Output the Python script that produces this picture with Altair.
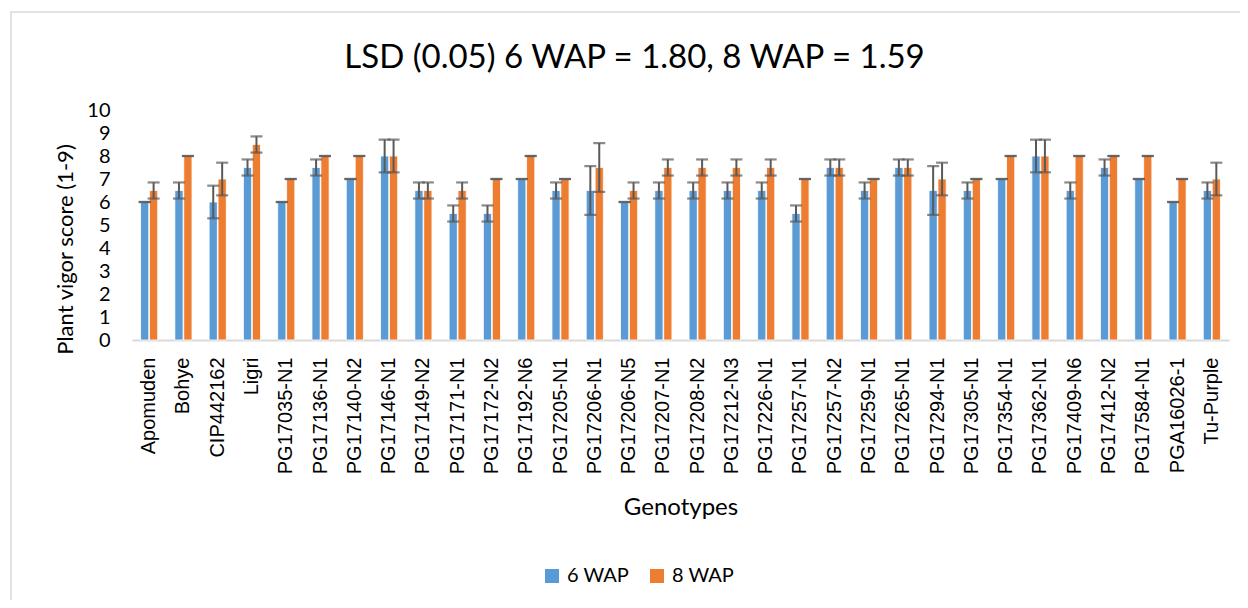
import altair as alt
import pandas as pd

genotypes = ["Apomuden", "Bohye", "CIP442162", "Ligri", "PG17035-N1", "PG17136-N1",
             "PG17140-N2", "PG17146-N1", "PG17149-N2", "PG17171-N1", "PG17172-N2",
             "PG17192-N6", "PG17205-N1", "PG17206-N1", "PG17206-N5", "PG17207-N1",
             "PG17208-N2", "PG17212-N3", "PG17226-N1", "PG17257-N1", "PG17257-N2",
             "PG17259-N1", "PG17265-N1", "PG17294-N1", "PG17305-N1", "PG17354-N1",
             "PG17362-N1", "PG17409-N6", "PG17412-N2", "PG17584-N1", "PGA16026-1",
             "Tu-Purple"]

wap6 = [6.0, 6.5, 6.0, 7.5, 6.0, 7.5, 7.0, 8.0, 6.5, 5.5, 5.5,
        7.0, 6.5, 6.5, 6.0, 6.5, 6.5, 6.5, 6.5, 5.5, 7.5,
        6.5, 7.5, 6.5, 6.5, 7.0, 8.0, 6.5, 7.5, 7.0, 6.0, 6.5]
err6 = [0.0, 0.35, 0.71, 0.35, 0.0, 0.35, 0.0, 0.71, 0.35, 0.35, 0.35,
        0.0, 0.35, 1.06, 0.0, 0.35, 0.35, 0.35, 0.35, 0.35, 0.35,
        0.35, 0.35, 1.06, 0.35, 0.0, 0.71, 0.35, 0.35, 0.0, 0.0, 0.35]

wap8 = [6.5, 8.0, 7.0, 8.5, 7.0, 8.0, 8.0, 8.0, 6.5, 6.5, 7.0,
        8.0, 7.0, 7.5, 6.5, 7.5, 7.5, 7.5, 7.5, 7.0, 7.5,
        7.0, 7.5, 7.0, 7.0, 8.0, 8.0, 8.0, 8.0, 8.0, 7.0, 7.0]
err8 = [0.35, 0.0, 0.71, 0.35, 0.0, 0.0, 0.0, 0.71, 0.35, 0.35, 0.0,
        0.0, 0.0, 1.06, 0.35, 0.35, 0.35, 0.35, 0.35, 0.0, 0.35,
        0.0, 0.35, 0.71, 0.0, 0.0, 0.71, 0.0, 0.0, 0.0, 0.0, 0.71]

y_ticks = [0, 1, 2, 3, 4, 5, 6, 7, 8, 9, 10]

series = ["6 WAP", "8 WAP"]
colors = ["#5B9BD5", "#ED7D31"]

rows = []
for g, v, e in zip(genotypes, wap6, err6):
    rows.append({"Genotype": g, "Period": series[0], "Score": v, "lo": v - e, "hi": v + e})
for g, v, e in zip(genotypes, wap8, err8):
    rows.append({"Genotype": g, "Period": series[1], "Score": v, "lo": v - e, "hi": v + e})
df = pd.DataFrame(rows)

W, H = 1097, 230

x_axis = alt.Axis(title="Genotypes", labelAngle=-90, labelFont="Liberation Sans",
                  labelFontSize=20, labelPadding=17, labelColor="#000000",
                  ticks=False, domainColor="#D9D9D9", domainWidth=2,
                  titleFont="Lato", titleFontSize=24, titleFontWeight="normal",
                  titleColor="#000000", titleY=167, titleBaseline="middle")
y_axis = alt.Axis(title="Plant vigor score (1-9)", values=y_ticks, tickCount=11,
                  labelOverlap=False, labelFlush=False, labelBound=False,
                  grid=False, domain=False, ticks=False, labelPadding=22,
                  labelFont="Lato", labelFontSize=20, labelColor="#000000",
                  titleFont="Lato", titleFontSize=22, titleFontWeight="normal",
                  titleColor="#000000", titleX=-67, titleY=139,
                  titleBaseline="middle")

x_scale = alt.Scale(paddingInner=0.5, paddingOuter=0.25)
y_scale = alt.Scale(domain=[0, 10], nice=False)
xoff = alt.XOffset("Period:N", sort=series, scale=alt.Scale(paddingInner=0.08))

base = alt.Chart(df)

bars = base.mark_bar(stroke="white", strokeWidth=0.8).encode(
    x=alt.X("Genotype:N", sort=genotypes, scale=x_scale, axis=x_axis),
    xOffset=xoff,
    y=alt.Y("Score:Q", scale=y_scale, axis=y_axis),
    color=alt.Color("Period:N", sort=series,
                    scale=alt.Scale(domain=series, range=colors),
                    legend=alt.Legend(title=None, orient="none", direction="horizontal",
                                      legendX=410, legendY=456, symbolType="square",
                                      symbolSize=196, symbolStrokeWidth=0,
                                      labelFont="Lato", labelFontSize=20,
                                      labelColor="#000000", columnPadding=17,
                                      labelOffset=5)),
)

rules = base.mark_rule(color="#595959", strokeWidth=2).encode(
    x=alt.X("Genotype:N", sort=genotypes),
    xOffset=xoff,
    y=alt.Y("lo:Q"),
    y2="hi:Q",
)
caps_lo = base.mark_tick(color="#595959", thickness=2.2, size=12).encode(
    x=alt.X("Genotype:N", sort=genotypes),
    xOffset=xoff,
    y=alt.Y("lo:Q"),
)
caps_hi = base.mark_tick(color="#595959", thickness=2.2, size=12).encode(
    x=alt.X("Genotype:N", sort=genotypes),
    xOffset=xoff,
    y=alt.Y("hi:Q"),
)

frame = alt.Chart(pd.DataFrame({"f": [0]})).mark_rect(
    filled=False, stroke="#D9D9D9", strokeWidth=1.5
).encode(x=alt.value(-121), x2=alt.value(1130), y=alt.value(-98), y2=alt.value(510))

chart = alt.layer(frame, bars, rules, caps_lo, caps_hi).properties(
    width=W, height=H,
    background="white",
    title=alt.Title("LSD (0.05) 6 WAP = 1.80, 8 WAP = 1.59", font="Lato", fontSize=33,
                    fontWeight="normal", color="#000000", dx=-46, offset=-90,
                    baseline="alphabetic", anchor="middle"),
    autosize=alt.AutoSizeParams(type="none"),
    padding={"left": 124, "top": 102, "right": 11, "bottom": 260},
).configure_view(stroke=None).configure_axisY(labelOverlap=False)

chart.save("out.html", embed_options={"renderer": "svg", "actions": False})
